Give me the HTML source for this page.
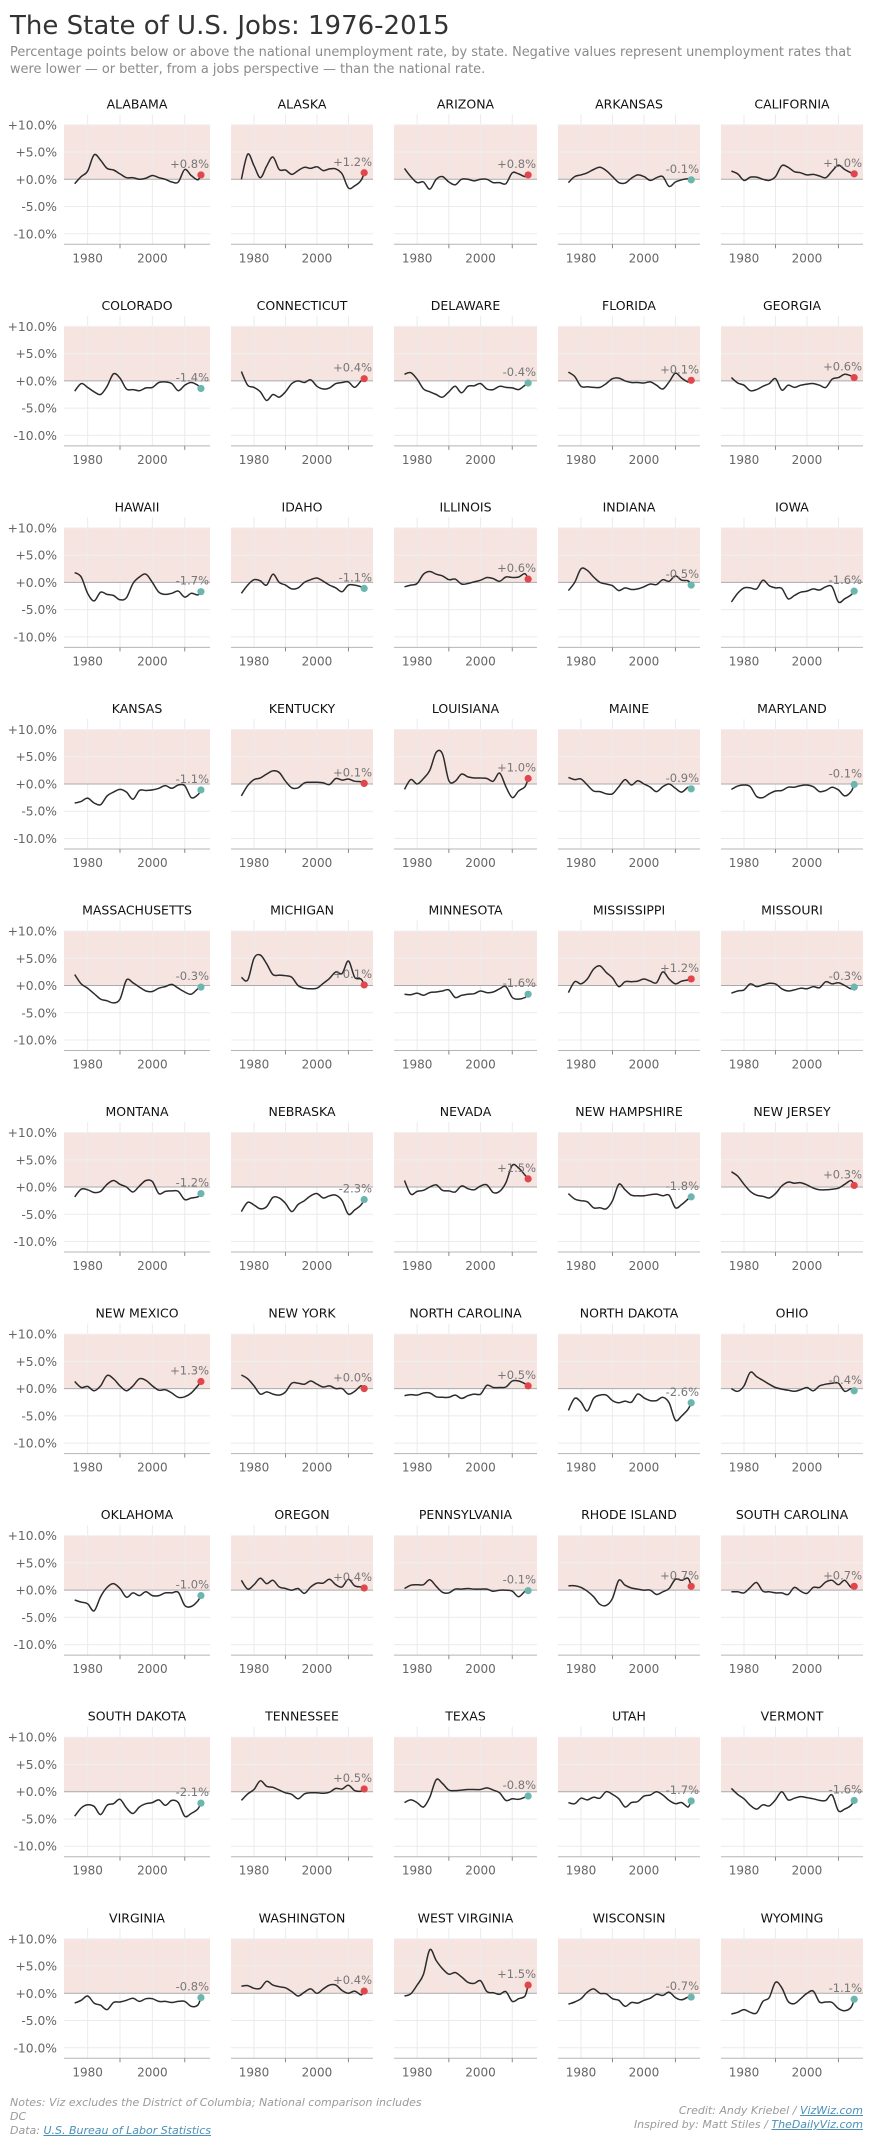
<!DOCTYPE html>
<html><head><meta charset="utf-8">
<style>
body{margin:0;background:#fff;width:874px;height:2149px;overflow:hidden;font-family:"DejaVu Sans","Liberation Sans",sans-serif;position:relative}
.t{position:absolute;white-space:nowrap}
#title{left:10px;top:11px;font-size:26px;color:#333}
#sub{left:10px;top:44px;font-size:12.9px;color:#8a8a8a;line-height:17px;width:860px}
.foot{font-style:italic;font-size:11px;color:#9a9a9a;line-height:14px}
.foot a{color:#4a90b8;text-decoration:underline}
svg{position:absolute;left:0;top:0}
</style></head><body>
<svg id="s" width="874" height="2149"></svg>
<div class="t" id="title">The State of U.S. Jobs: 1976-2015</div>
<div class="t" id="sub">Percentage points below or above the national unemployment rate, by state. Negative values represent unemployment rates that<br>were lower — or better, from a jobs perspective — than the national rate.</div>
<div class="t foot" style="left:10px;top:2096px">Notes: Viz excludes the District of Columbia; National comparison includes<br>DC<br>Data: <a>U.S. Bureau of Labor Statistics</a></div>
<div class="t foot" style="right:11px;top:2104px;text-align:right">Credit: Andy Kriebel / <a>VizWiz.com</a><br>Inspired by: Matt Stiles / <a>TheDailyViz.com</a></div>
<script>
var D=[
["ALABAMA",[-0.8,0.5,1.5,4.5,3.5,2,1.7,1,0.3,0.3,0,0.2,0.7,0.3,0,-0.5,-0.5,1.8,0.7,-0.1,0.8],"+0.8%"],
["ALASKA",[0,4.6,2.5,0.3,2.4,4.1,1.8,1.7,0.9,1.6,2.2,2,2.3,1.6,1.9,1.9,1.0,-1.6,-1.2,-0.2,1.2],"+1.2%"],
["ARIZONA",[2,0.5,-0.6,-0.5,-1.8,0,0.5,-0.5,-1,0,0,-0.3,0,0,-0.6,-0.6,-0.8,1.2,1.0,0.5,0.8],"+0.8%"],
["ARKANSAS",[-0.6,0.5,0.8,1.2,1.8,2.2,1.6,0.5,-0.6,-0.7,0.2,0.8,0.5,-0.2,0.3,0.5,-1.3,-0.5,-0.1,0.1,-0.1],"-0.1%"],
["CALIFORNIA",[1.5,1,-0.2,0.4,0.4,0,-0.2,0.5,2.5,2.2,1.4,1.2,0.8,0.9,0.6,0.3,1.5,2.6,1.8,1.2,1.0],"+1.0%"],
["COLORADO",[-1.9,-0.5,-1.2,-2.0,-2.5,-1.0,1.3,0.5,-1.5,-1.6,-1.8,-1.3,-1.2,-0.3,-0.2,-0.5,-1.8,-0.8,-0.3,-0.8,-1.4],"-1.4%"],
["CONNECTICUT",[1.7,-0.8,-1.2,-2.0,-3.6,-2.5,-3.0,-2,-0.5,0,-0.3,0.2,-1,-1.5,-1.3,-0.5,-0.3,-0.2,-1.2,0,0.4],"+0.4%"],
["DELAWARE",[1.2,1.5,0.3,-1.5,-2.0,-2.5,-3,-2,-1.0,-2.2,-1,-0.9,-0.5,-1.5,-1.6,-1.0,-1.2,-1.3,-1.6,-0.8,-0.4],"-0.4%"],
["FLORIDA",[1.6,0.8,-1.0,-1.1,-1.2,-1.2,-0.5,0.4,0.5,0,-0.3,-0.3,-0.4,-0.2,-0.8,-1.5,-0.2,1.4,0.5,-0.2,0.1],"+0.1%"],
["GEORGIA",[0.6,-0.4,-0.8,-1.8,-1.6,-1,-0.5,0.4,-1.7,-0.8,-1.2,-0.8,-0.6,-0.5,-0.8,-1.2,0.3,0.6,1.2,0.9,0.6],"+0.6%"],
["HAWAII",[1.8,1.0,-2.0,-3.4,-1.8,-2.2,-2.4,-3.2,-2.8,-0.2,1.0,1.5,0,-1.8,-2.2,-2.0,-1.6,-2.7,-2.0,-2.3,-1.7],"-1.7%"],
["IDAHO",[-2,-0.5,0.5,0.3,-0.5,1.5,0,-0.5,-1.2,-1,0,0.5,0.8,0.2,-0.5,-1,-1.7,-0.5,-0.5,-0.8,-1.1],"-1.1%"],
["ILLINOIS",[-0.8,-0.5,-0.2,1.5,2,1.5,1.2,0.5,0.6,-0.3,-0.2,0.1,0.4,0.9,0.7,0.2,1,0.9,1,1.6,0.6],"+0.6%"],
["INDIANA",[-1.5,0,2.5,2.2,1,0,-0.3,-0.6,-1.5,-1.0,-1.3,-1.2,-0.8,-0.3,-0.4,0.5,0.2,1.2,0.4,0.3,-0.5],"-0.5%"],
["IOWA",[-3.6,-2,-1,-1,-1.2,0.4,-0.6,-1,-1.1,-3,-2.4,-1.8,-1.6,-1.2,-1.4,-0.8,-0.8,-3.6,-3.0,-2.3,-1.6],"-1.6%"],
["KANSAS",[-3.5,-3.2,-2.6,-3.5,-3.8,-2.2,-1.5,-1.0,-1.5,-2.8,-1.2,-1.2,-1.1,-0.8,-0.3,-0.8,-0.2,-0.3,-2.5,-2.0,-1.1],"-1.1%"],
["KENTUCKY",[-2.2,-0.3,0.8,1.1,1.8,2.4,2.1,0.5,-0.7,-0.7,0.2,0.3,0.3,0.2,-0.1,1.0,0.7,0.9,0.5,0.4,0.1],"+0.1%"],
["LOUISIANA",[-1,0.8,0,1,2.5,5.8,5.5,0.6,0.5,1.8,1.3,1.1,1.1,1.0,0.5,2.0,-0.5,-2.5,-1.3,-0.5,1.0],"+1.0%"],
["MAINE",[1.2,0.8,0.9,-0.2,-1.3,-1.4,-1.8,-1.8,-0.5,0.8,-0.2,0.6,0,-0.6,-1.4,-0.5,0,-0.8,-1.5,-0.6,-0.9],"-0.9%"],
["MARYLAND",[-1,-0.4,-0.2,-0.5,-2.3,-2.5,-1.8,-1.3,-1.2,-0.6,-0.6,-0.3,-0.2,-0.5,-1.4,-1.2,-0.6,-1.1,-2.2,-1.4,-0.1],"-0.1%"],
["MASSACHUSETTS",[2.0,0.3,-0.5,-1.5,-2.5,-2.8,-3.2,-2.5,1.0,0.5,-0.3,-1.0,-1.1,-0.5,-0.2,0.2,-0.5,-1.2,-1.6,-0.6,-0.3],"-0.3%"],
["MICHIGAN",[1.5,1.0,5.0,5.6,4.0,2.0,1.9,1.8,1.5,0,-0.5,-0.6,-0.5,0.4,1.3,2.5,2.2,4.5,1.5,1.2,0.1],"+0.1%"],
["MINNESOTA",[-1.6,-1.7,-1.4,-1.8,-1.3,-1.2,-1.0,-0.8,-2.2,-1.8,-1.6,-1.5,-1.0,-1.3,-1.2,-0.6,-0.2,-2.2,-2.5,-2.2,-1.6],"-1.6%"],
["MISSISSIPPI",[-1.3,0.7,0.3,1.2,3.0,3.6,2.4,1.4,-0.2,0.7,0.7,0.8,1.2,0.8,0.5,2.5,1.2,0.3,0.8,1.0,1.2],"+1.2%"],
["MISSOURI",[-1.4,-1,-0.8,0.3,-0.2,0.1,0.4,0.3,-0.6,-1.0,-0.8,-0.5,-0.6,-0.2,-0.4,0.7,0.3,0.5,0,-0.6,-0.3],"-0.3%"],
["MONTANA",[-1.8,-0.4,-0.5,-1.0,-0.8,0.5,1.2,0.5,0,-0.9,0.2,1.2,1.0,-1.2,-0.8,-0.7,-0.8,-2.3,-2.0,-1.8,-1.2],"-1.2%"],
["NEBRASKA",[-4.5,-2.8,-3.3,-4,-3.6,-1.9,-2,-3,-4.5,-3.2,-2.5,-1.6,-1.2,-2.0,-1.6,-1.5,-2.5,-5.0,-4.2,-3.3,-2.3],"-2.3%"],
["NEVADA",[1.2,-1.3,-0.8,-0.6,0,0.4,-0.6,-0.7,-0.9,0.2,-0.3,-0.5,0.2,0.4,-1.0,-0.8,0.8,4.0,3.5,2.2,1.5],"+1.5%"],
["NEW HAMPSHIRE",[-1.2,-2.2,-2.5,-2.7,-3.8,-3.8,-4,-2.5,0.5,-0.5,-1.5,-1.6,-1.6,-1.4,-1.3,-1.6,-1.5,-3.8,-3.2,-2.2,-1.8],"-1.8%"],
["NEW JERSEY",[2.8,2.0,0.5,-0.8,-1.5,-1.7,-2.0,-1.2,0.2,0.9,0.7,0.8,0.4,-0.2,-0.5,-0.5,-0.4,-0.2,0.5,1.2,0.3],"+0.3%"],
["NEW MEXICO",[1.3,0.2,0.4,-0.4,0.5,2.4,1.8,0.5,-0.4,0.5,1.8,1.5,0.5,-0.3,-0.2,-0.8,-1.6,-1.5,-0.8,0.5,1.3],"+1.3%"],
["NEW YORK",[2.5,1.8,0.5,-1.0,-0.6,-1.0,-1.2,-0.6,1.0,1.0,0.8,1.4,0.8,0.3,0.5,0,0,-1.0,-0.5,0.5,0],"+0.0%"],
["NORTH CAROLINA",[-1.3,-1.1,-1.2,-0.8,-0.8,-1.5,-1.6,-1.6,-1.2,-1.8,-1.3,-1.0,-1.0,0.6,0.2,0.2,0.3,1.4,1.4,0.9,0.5],"+0.5%"],
["NORTH DAKOTA",[-4,-1.8,-2.5,-4.1,-1.8,-1.2,-1.2,-2.2,-2.6,-2.3,-2.5,-1.0,-1.7,-2.2,-2.2,-1.6,-2.6,-5.8,-5.0,-3.8,-2.6],"-2.6%"],
["OHIO",[0,-0.5,0.5,3,2.2,1.5,0.8,0.2,-0.1,-0.3,-0.5,-0.2,0.2,-0.4,0.5,0.8,1.0,1.0,-0.5,0,-0.4],"-0.4%"],
["OKLAHOMA",[-1.8,-2.2,-2.5,-3.8,-1.2,0.5,1.2,0.3,-1.3,-0.5,-1.0,-0.3,-1.0,-1.0,-0.5,-0.5,-0.4,-2.8,-3,-2.0,-1.0],"-1.0%"],
["OREGON",[1.8,0.2,1.0,2.2,1.2,1.8,0.6,0.3,0,0.3,-0.6,0.6,1.3,1.3,2.0,1.0,0.6,2.0,0.8,0.6,0.4],"+0.4%"],
["PENNSYLVANIA",[0.3,0.9,1.0,1.0,1.9,0.7,-0.4,-0.5,0.2,0.2,0.3,0.2,0.2,0.2,-0.2,0,0,-0.2,-1.2,-0.2,-0.1],"-0.1%"],
["RHODE ISLAND",[0.8,0.8,0.5,-0.2,-1.2,-2.6,-2.8,-1.5,1.8,0.9,0.4,0.2,0,0,-0.8,-0.3,0.3,2.0,1.8,2.2,0.7],"+0.7%"],
["SOUTH CAROLINA",[-0.3,-0.3,-0.5,0.5,1.4,-0.2,-0.3,-0.5,-0.5,-0.8,0.5,-0.2,-0.6,0.5,0.5,1.5,1.8,1.0,1.8,0.5,0.7],"+0.7%"],
["SOUTH DAKOTA",[-4.5,-3,-2.4,-2.7,-4.2,-2.5,-2.2,-1.4,-3.0,-4.0,-2.8,-2.2,-2.0,-1.5,-2.5,-1.6,-2.0,-4.5,-4.0,-3.2,-2.1],"-2.1%"],
["TENNESSEE",[-1.6,-0.4,0.4,2.0,1.0,0.8,0.3,-0.2,-0.5,-1.3,-0.4,-0.2,-0.2,-0.3,-0.1,0.6,0.5,1.2,0.2,0.1,0.5],"+0.5%"],
["TEXAS",[-2,-1.5,-2.0,-2.8,-1.0,2.2,1.5,0.3,0.2,0.3,0.4,0.4,0.4,0.7,0.3,-0.2,-1.6,-1.3,-1.4,-1.0,-0.8],"-0.8%"],
["UTAH",[-2,-2.2,-1.2,-1.5,-1.0,-1.2,0,-0.5,-1.3,-2.8,-2.0,-1.8,-0.8,-0.6,0,-0.6,-1.6,-2.2,-2.0,-2.8,-1.7],"-1.7%"],
["VERMONT",[0.6,-0.5,-1.3,-2.5,-3.2,-2.4,-2.6,-1.5,0,-1.5,-1.2,-0.9,-1.1,-1.3,-1.6,-1.6,-0.6,-3.5,-3.2,-2.5,-1.6],"-1.6%"],
["VIRGINIA",[-1.8,-1.3,-0.5,-1.8,-2.2,-3.0,-1.7,-1.6,-1.3,-0.9,-1.5,-1.0,-1.0,-1.5,-1.5,-1.7,-1.5,-1.5,-2.4,-2.2,-0.8],"-0.8%"],
["WASHINGTON",[1.3,1.4,0.9,0.9,2.2,1.5,1.2,1.0,0.3,-0.5,0.2,0.8,0,0.8,1.5,1.5,0.5,0,0.4,-0.3,0.4],"+0.4%"],
["WEST VIRGINIA",[-0.5,-0.1,1.5,3.5,8.0,6.0,4.5,3.5,3.8,3.0,2.0,1.8,2.3,0.3,0.1,-0.2,0.3,-1.5,-1.0,-0.5,1.5],"+1.5%"],
["WISCONSIN",[-2,-1.6,-1.0,0.2,0.8,0,-0.1,-1.0,-1.3,-2.4,-1.7,-1.8,-1.3,-0.9,-0.2,-0.4,0.2,-0.8,-1.2,-0.7,-0.7],"-0.7%"],
["WYOMING",[-3.8,-3.5,-3.0,-3.5,-3.6,-1.5,-0.8,2.0,1.0,-1.5,-1.9,-1.0,0,0.4,-1.6,-1.6,-1.7,-2.8,-3.2,-2.6,-1.1],"-1.1%"]
];
var L=[64,231,394,558,721],W=[146,142,143,142,142],Y0=1972.7,Y1=2017.8,K=5.45;
var h='';
function tx(x,y,s,a,sz,c,extra){return '<text x="'+x+'" y="'+y+'" text-anchor="'+a+'" font-size="'+sz+'" fill="'+c+'" font-family="DejaVu Sans, Liberation Sans, sans-serif"'+(extra||'')+'>'+s+'</text>';}
D.forEach(function(d,i){
 var c=i%5,r=Math.floor(i/5),l=L[c],w=W[c],z=179.3+r*201.55;
 var X=function(y){return l+(y-Y0)/(Y1-Y0)*w;},Yv=function(v){return z-v*K;};
 h+='<rect x="'+l+'" y="'+(z-10*K)+'" width="'+w+'" height="'+(10*K)+'" fill="#f6e4e1"/>';
 [1980,1990,2000,2010].forEach(function(y){h+='<line x1="'+X(y)+'" x2="'+X(y)+'" y1="'+(z-65)+'" y2="'+(z+65)+'" stroke="#ebebeb" stroke-width="1"/>';});
 [10,5,-5,-10].forEach(function(v){h+='<line x1="'+l+'" x2="'+(l+w)+'" y1="'+Yv(v)+'" y2="'+Yv(v)+'" stroke="'+(v>0?'#f0f0f0':'#ebebeb')+'" stroke-width="1"/>';});
 h+='<line x1="'+l+'" x2="'+(l+w)+'" y1="'+z+'" y2="'+z+'" stroke="#aaa" stroke-width="1"/>';
 h+='<line x1="'+l+'" x2="'+(l+w)+'" y1="'+(z+65)+'" y2="'+(z+65)+'" stroke="#b5b5b5" stroke-width="1"/>';
 [1990,2010].forEach(function(y){h+='<line x1="'+X(y)+'" x2="'+X(y)+'" y1="'+(z+65)+'" y2="'+(z+69)+'" stroke="#888" stroke-width="1"/>';});
 [1980,2000].forEach(function(y){h+=tx(X(y),z+83,y,'middle',12,'#666');});
 if(c==0){[10,5,0,-5,-10].forEach(function(v){h+=tx(57,Yv(v)+4.5,(v>=0?'+':'')+v.toFixed(1)+'%','end',12.3,'#666');});}
 h+=tx(l+w/2,z-71,d[0],'middle',12.5,'#111');
 var v=d[1],pts=v.map(function(a,k){return [X(k<20?1976+2*k:2015),Yv(a)];});
 var p='M'+pts[0][0].toFixed(1)+','+pts[0][1].toFixed(1);
 for(var k=0;k<pts.length-1;k++){var p0=pts[k-1]||pts[k],p1=pts[k],p2=pts[k+1],p3=pts[k+2]||p2;
  p+='C'+(p1[0]+(p2[0]-p0[0])/6).toFixed(1)+','+(p1[1]+(p2[1]-p0[1])/6).toFixed(1)+' '+(p2[0]-(p3[0]-p1[0])/6).toFixed(1)+','+(p2[1]-(p3[1]-p1[1])/6).toFixed(1)+' '+p2[0].toFixed(1)+','+p2[1].toFixed(1);}
 h+='<path d="'+p+'" fill="none" stroke="#2b2b2b" stroke-width="1.5"/>';
 var last=pts[20],pos=d[2].charAt(0)=='+';
 h+='<circle cx="'+last[0]+'" cy="'+last[1]+'" r="3.6" fill="'+(pos?'#e0474c':'#6bb6ae')+'"/>';
 h+=tx(l+w-1,last[1]-7,d[2],'end',11.5,'#777');
});
document.getElementById('s').innerHTML=h;
</script>
</body></html>
